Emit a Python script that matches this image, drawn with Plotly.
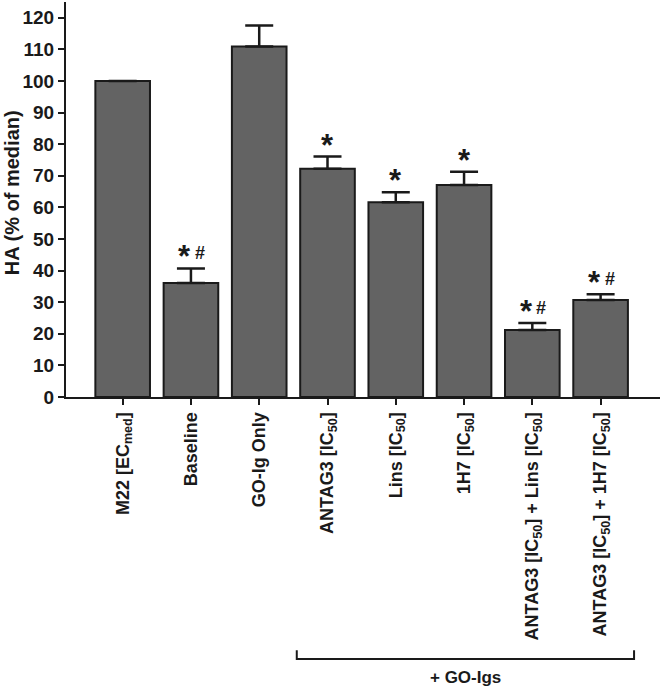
import plotly.graph_objects as go

categories = ["M22 [EC<sub>med</sub>]", "Baseline", "GO-Ig Only", "ANTAG3 [IC<sub>50</sub>]",
              "Lins [IC<sub>50</sub>]", "1H7 [IC<sub>50</sub>]",
              "ANTAG3 [IC<sub>50</sub>] + Lins [IC<sub>50</sub>]",
              "ANTAG3 [IC<sub>50</sub>] + 1H7 [IC<sub>50</sub>]"]
values = [100, 36.1, 110.9, 72.2, 61.6, 67.1, 21.2, 30.7]
errors = [0, 4.6, 6.7, 3.9, 3.2, 4.2, 2.2, 1.8]
marks = ["", "*#", "", "*", "*", "*", "*#", "*#"]
y_ticks = list(range(0, 121, 10))

FONT = "Liberation Sans, Arial, sans-serif"
DARK = "#1a1a1a"
xs = list(range(len(categories)))

fig = go.Figure()
fig.add_trace(go.Bar(
    x=xs, y=values, width=0.8,
    marker=dict(color="#636363", line=dict(color=DARK, width=2)),
    error_y=dict(type="data", symmetric=False, array=errors,
                 arrayminus=[0] * len(errors), color=DARK, thickness=2.5, width=14),
    showlegend=False,
))

for i, (v, e, m) in enumerate(zip(values, errors, marks)):
    if not m:
        continue
    if m == "*#":
        fig.add_annotation(x=i, y=v + e, text="*", showarrow=False, xanchor="center",
                           yanchor="bottom", yshift=-8, xshift=-6,
                           font=dict(family=FONT, size=31, color=DARK, weight="bold"))
        fig.add_annotation(x=i, y=v + e, text="#", showarrow=False, xanchor="center",
                           yanchor="bottom", yshift=3, xshift=9,
                           font=dict(family=FONT, size=18, color=DARK, weight="bold"))
    else:
        fig.add_annotation(x=i, y=v + e, text="*", showarrow=False, xanchor="center",
                           yanchor="bottom", yshift=-8,
                           font=dict(family=FONT, size=31, color=DARK, weight="bold"))

# bracket for + GO-Igs
fig.add_shape(type="path", xref="x", yref="paper",
              path="M 2.55,-0.641 L 2.55,-0.663 L 7.49,-0.663 L 7.49,-0.641",
              line=dict(color=DARK, width=2))
fig.add_annotation(x=5.02, y=-0.709, xref="x", yref="paper", text="+ GO-Igs",
                   showarrow=False, xanchor="center", yanchor="middle",
                   font=dict(family=FONT, size=17, color=DARK, weight="bold"))

# y-axis title
fig.add_annotation(x=0, y=0.516, xref="paper", yref="paper", text="HA (% of median)",
                   showarrow=False, xanchor="center", yanchor="middle", textangle=-90,
                   xshift=-54,
                   font=dict(family=FONT, size=20, color=DARK, weight="bold"))

fig.update_layout(
    width=661, height=688,
    margin=dict(l=66, r=1, t=2, b=291, autoexpand=False),
    plot_bgcolor="white", paper_bgcolor="white",
    font=dict(family=FONT, color=DARK, weight="bold"),
)
fig.update_xaxes(
    range=[-0.83, 7.87], tickvals=xs, ticktext=categories, tickangle=-90,
    showline=True, linecolor=DARK, linewidth=2, ticks="outside", ticklen=6,
    tickwidth=2, tickcolor=DARK, showgrid=False, zeroline=False, automargin=False,
    tickfont=dict(family=FONT, size=18, color=DARK, weight="bold"),
)
fig.update_yaxes(
    range=[0, 125], tickvals=y_ticks, showline=True, linecolor=DARK, linewidth=2,
    ticks="outside", ticklen=6, tickwidth=2, tickcolor=DARK, showgrid=False,
    zeroline=False, automargin=False,
    tickfont=dict(family=FONT, size=19, color=DARK, weight="bold"),
)

fig.write_html("out.html", config={"displayModeBar": False},
               post_script="document.body.style.margin='0';document.body.style.overflow='hidden';")
